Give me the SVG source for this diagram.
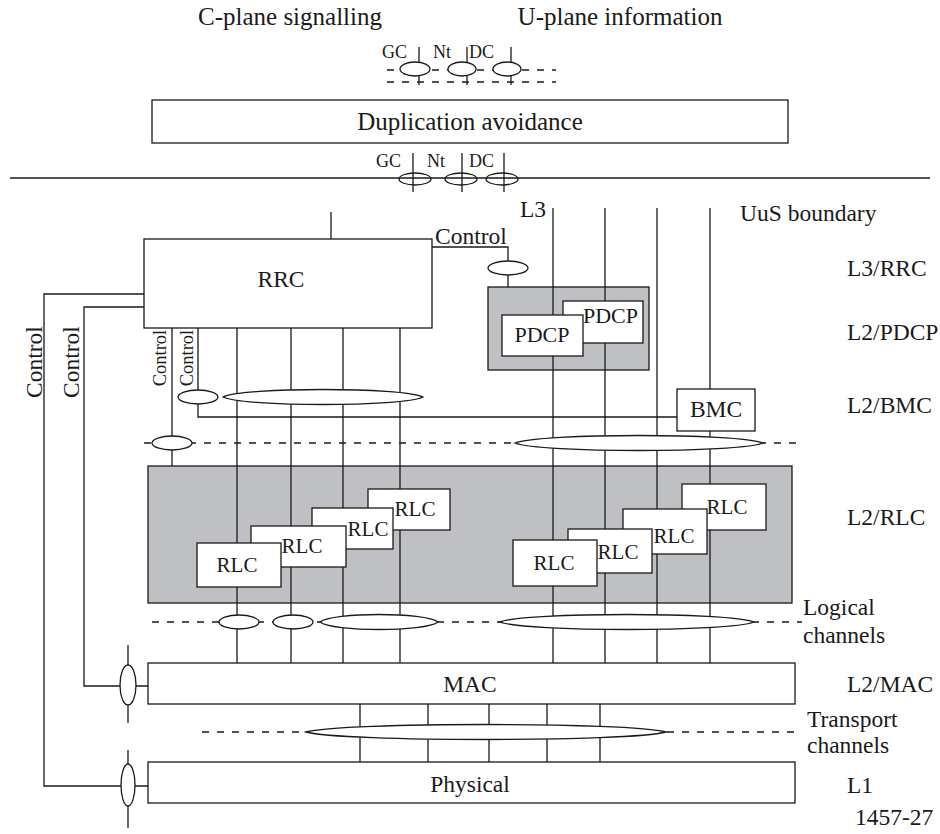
<svg xmlns="http://www.w3.org/2000/svg" width="940" height="834" viewBox="0 0 940 834" font-family="'Liberation Serif', 'Times New Roman', serif">
<style>
text{font-family:"Liberation Serif","Times New Roman",serif;font-size:23.5px;fill:#1a1a1a}
.s{font-size:18px}
.sc{font-size:18.5px}
.big{font-size:25px}
.r{font-size:21px}
.p{font-size:22px}
.m{text-anchor:middle}
.ln{stroke:#1a1a1a;stroke-width:1.3;fill:none}
.dash{stroke:#1a1a1a;stroke-width:1.3;fill:none;stroke-dasharray:7 8}
.box{fill:#fff;stroke:#1a1a1a;stroke-width:1.3}
.grey{fill:#bfc0c4;stroke:#1a1a1a;stroke-width:1.3}
.el{fill:#fff;stroke:#1a1a1a;stroke-width:1.3}
.ring{fill:none;stroke:#1a1a1a;stroke-width:1.3}
</style>
<rect width="940" height="834" fill="#fff"/>

<!-- top labels -->
<text x="290" y="25" class="m big">C-plane signalling</text>
<text x="620" y="25" class="m big">U-plane information</text>

<!-- top SAPs -->
<g id="top-saps">
  <line class="dash" x1="387" y1="70" x2="556" y2="70"/>
  <line class="dash" x1="387" y1="82" x2="556" y2="82"/>
  <line class="ln" x1="419" y1="47" x2="419" y2="85"/>
  <line class="ln" x1="467" y1="47" x2="467" y2="85"/>
  <line class="ln" x1="511" y1="47" x2="511" y2="85"/>
  <ellipse class="el" cx="415" cy="69" rx="15" ry="7"/>
  <ellipse class="el" cx="462" cy="69" rx="14" ry="7"/>
  <ellipse class="el" cx="507" cy="69" rx="14" ry="7"/>
  <text x="382" y="58" class="s">GC</text>
  <text x="433" y="58" class="s">Nt</text>
  <text x="469" y="58" class="s">DC</text>
</g>

<g id="duplication">
  <rect class="box" x="152" y="100" width="636" height="43"/>
  <text x="470" y="130" class="m big">Duplication avoidance</text>
</g>

<!-- boundary line with SAPs -->
<g id="boundary">
  <line class="ln" x1="10" y1="178" x2="930" y2="178"/>
  <line class="ln" x1="413" y1="153" x2="413" y2="192"/>
  <line class="ln" x1="462" y1="153" x2="462" y2="192"/>
  <line class="ln" x1="504" y1="153" x2="504" y2="192"/>
  <ellipse class="ring" cx="415" cy="179" rx="16" ry="6"/>
  <ellipse class="ring" cx="461" cy="179" rx="16" ry="6"/>
  <ellipse class="ring" cx="502" cy="179" rx="16" ry="6"/>
  <text x="376" y="167" class="s">GC</text>
  <text x="427" y="167" class="s">Nt</text>
  <text x="469" y="167" class="s">DC</text>
</g>

<!-- containers (grey) -->
<g id="pdcp-area"><rect class="grey" x="488" y="287" width="161" height="83"/></g>
<g id="rlc-area"><rect class="grey" x="148" y="466" width="644" height="137"/></g>

<!-- connectors -->
<g id="connectors">
  <line class="ln" x1="331" y1="212" x2="331" y2="239"/>
  <line class="ln" x1="553" y1="208" x2="553" y2="663"/>
  <line class="ln" x1="605" y1="208" x2="605" y2="663"/>
  <line class="ln" x1="657" y1="208" x2="657" y2="663"/>
  <line class="ln" x1="710" y1="208" x2="710" y2="663"/>
  <line class="ln" x1="237" y1="328" x2="237" y2="663"/>
  <line class="ln" x1="291" y1="328" x2="291" y2="663"/>
  <line class="ln" x1="343" y1="328" x2="343" y2="663"/>
  <line class="ln" x1="400" y1="328" x2="400" y2="663"/>
  <line class="ln" x1="172" y1="328" x2="172" y2="466"/>
  <polyline class="ln" points="198,328 198,417 677,417"/>
  <polyline class="ln" points="432,247 508,247 508,287"/>
  <polyline class="ln" points="144,294 44,294 44,786 148,786"/>
  <polyline class="ln" points="144,307 84,307 84,686 148,686"/>
  <line class="ln" x1="128" y1="645" x2="128" y2="723"/>
  <line class="ln" x1="128" y1="750" x2="128" y2="828"/>
  <line class="ln" x1="360" y1="704" x2="360" y2="762"/>
  <line class="ln" x1="428" y1="704" x2="428" y2="762"/>
  <line class="ln" x1="489" y1="704" x2="489" y2="762"/>
  <line class="ln" x1="547" y1="704" x2="547" y2="762"/>
  <line class="ln" x1="600" y1="704" x2="600" y2="762"/>
  <line class="dash" x1="144" y1="443" x2="802" y2="443"/>
  <line class="dash" x1="152" y1="622" x2="802" y2="622"/>
  <line class="dash" x1="202" y1="732" x2="795" y2="732"/>
  <!-- SAP ellipses -->
  <ellipse class="el" cx="508" cy="268" rx="20" ry="7"/>
  <ellipse class="el" cx="198" cy="397" rx="20" ry="7"/>
  <path class="el" d="M223,397 C243,387 403,387 423,397 C403,407 243,407 223,397 Z"/>
  <ellipse class="el" cx="172" cy="443" rx="20" ry="7"/>
  <path class="el" d="M515,443 C540,433 738,433 763,443 C738,453 540,453 515,443 Z"/>
  <ellipse class="el" cx="239" cy="622" rx="20" ry="7"/>
  <ellipse class="el" cx="293" cy="622" rx="20" ry="7"/>
  <path class="el" d="M320,622 C332,612 426,612 438,622 C426,632 332,632 320,622 Z"/>
  <path class="el" d="M500,622 C525,612 729,612 754,622 C729,632 525,632 500,622 Z"/>
  <path class="el" d="M306,732 C342,722 630,722 666,732 C630,742 342,742 306,732 Z"/>
  <ellipse class="el" cx="128" cy="685" rx="8" ry="20"/>
  <ellipse class="el" cx="128" cy="785" rx="7" ry="21"/>
  <text x="435" y="244">Control</text>
  <text transform="translate(42,362) rotate(-90)" class="m">Control</text>
  <text transform="translate(79,362) rotate(-90)" class="m">Control</text>
  <text transform="translate(166,358) rotate(-90)" class="sc m">Control</text>
  <text transform="translate(193,358) rotate(-90)" class="sc m">Control</text>
</g>

<g id="rrc">
  <rect class="box" x="144" y="239" width="288" height="89"/>
  <text x="281" y="287" class="m">RRC</text>
</g>

<g id="pdcp2"><rect class="box" x="563" y="301" width="80" height="42"/><text x="583" y="323" class="p">PDCP</text></g>
<g id="pdcp1"><rect class="box" x="502" y="315" width="81" height="41"/><text x="542" y="342" class="m p">PDCP</text></g>

<g id="bmc"><rect class="box" x="677" y="389" width="78" height="42"/><text x="716" y="417" class="m">BMC</text></g>

<g id="rlc-l4"><rect class="box" x="368" y="489" width="82" height="41"/><text x="415" y="516" class="m r">RLC</text></g>
<g id="rlc-l3"><rect class="box" x="312" y="508" width="81" height="41"/><text x="368" y="536" class="m r">RLC</text></g>
<g id="rlc-l2"><rect class="box" x="251" y="526" width="95" height="41"/><text x="302" y="553" class="m r">RLC</text></g>
<g id="rlc-l1"><rect class="box" x="197" y="543" width="84" height="44"/><text x="237" y="572" class="m r">RLC</text></g>

<g id="rlc-r4"><rect class="box" x="682" y="484" width="84" height="46"/><text x="727" y="514" class="m r">RLC</text></g>
<g id="rlc-r3"><rect class="box" x="623" y="509" width="84" height="45"/><text x="674" y="543" class="m r">RLC</text></g>
<g id="rlc-r2"><rect class="box" x="568" y="529" width="84" height="44"/><text x="618" y="559" class="m r">RLC</text></g>
<g id="rlc-r1"><rect class="box" x="513" y="540" width="84" height="46"/><text x="554" y="570" class="m r">RLC</text></g>

<g id="mac"><rect class="box" x="148" y="663" width="647" height="41"/><text x="470" y="692" class="m">MAC</text></g>
<g id="physical"><rect class="box" x="148" y="762" width="647" height="41"/><text x="470" y="792" class="m">Physical</text></g>

<!-- layer labels -->
<g id="labels">
  <text x="520" y="217">L3</text>
  <text x="740" y="221">UuS boundary</text>
  <text x="847" y="276">L3/RRC</text>
  <text x="847" y="340">L2/PDCP</text>
  <text x="847" y="413">L2/BMC</text>
  <text x="847" y="525">L2/RLC</text>
  <text x="803" y="615">Logical</text>
  <text x="803" y="643">channels</text>
  <text x="847" y="692">L2/MAC</text>
  <text x="807" y="727">Transport</text>
  <text x="807" y="753">channels</text>
  <text x="847" y="793">L1</text>
  <text x="855" y="825">1457-27</text>
</g>
</svg>
